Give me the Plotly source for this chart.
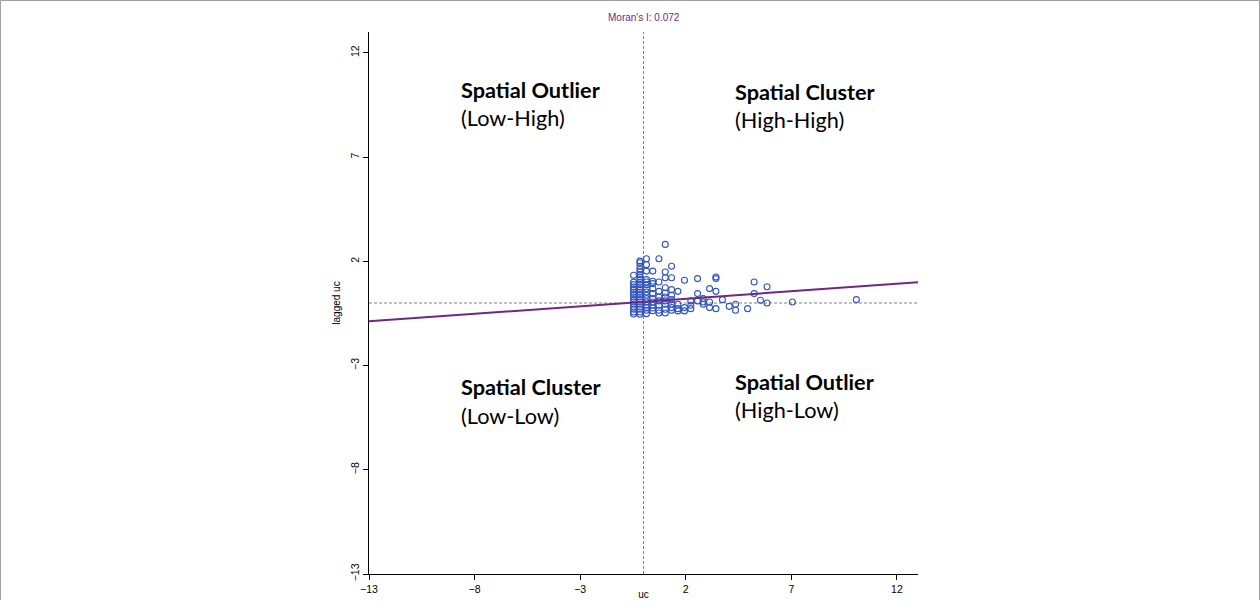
import plotly.graph_objects as go

# ---- data ----
col_x = [-0.47, -0.17, 0.14, 0.44, 0.73, 1.03, 1.33, 1.63, 1.94, 2.24, 2.56, 2.83, 3.13, 3.43,
         3.74, 4.06, 4.36, 4.93, 5.24, 5.54, 5.85, 7.05, 10.08]
col_y = [
    [1.33, 1.0, 0.88, 0.77, 0.64, 0.51, 0.40, 0.29, 0.16, 0.05, -0.06, -0.19, -0.30, -0.43, -0.53],
    [2.01, 1.93, 1.76, 1.61, 1.49, 1.36, 1.25, 1.12, 0.99, 0.88, 0.77, 0.64, 0.51, 0.40, 0.29,
     0.16, 0.05, -0.06, -0.19, -0.30, -0.43, -0.54],
    [2.12, 1.84, 1.53, 1.12, 1.01, 0.88, 0.69, 0.53, 0.37, 0.21, 0.05, -0.11, -0.22, -0.35, -0.51],
    [1.53, 1.04, 0.93, 0.69, 0.45, 0.21, 0.05, -0.11, -0.24, -0.37],
    [2.12, 1.01, 0.56, 0.29, 0.10, -0.11, -0.35, -0.48],
    [2.81, 1.49, 1.21, 0.73, 0.48, 0.29, 0.10, -0.06, -0.30, -0.48],
    [1.76, 1.21, 0.64, 0.37, 0.16, -0.06, -0.22, -0.35],
    [0.56, -0.06, -0.27, -0.38],
    [1.09, -0.22, -0.38],
    [0.10, -0.11, -0.27],
    [1.17, 0.45, 0.10],
    [0.21, 0.05, -0.06],
    [0.69, 0.05, -0.22],
    [1.25, 1.17, 0.56, -0.27],
    [0.16],
    [-0.16],
    [-0.06, -0.35],
    [-0.27],
    [1.01, 0.45],
    [0.13],
    [0.78, 0.0],
    [0.05],
    [0.16],
]
uc = [cx for cx, ys in zip(col_x, col_y) for _ in ys]
lagged_uc = [y for ys in col_y for y in ys]

moran_i = 0.072
intercept = 0.06
axis_range = [-13, 13]
tick_vals = [-13, -8, -3, 2, 7, 12]

quad_labels = [
    ("Spatial Outlier", "(Low-High)", -8.72, 10.2, 8.86),
    ("Spatial Cluster", "(High-High)", 4.22, 10.1, 8.76),
    ("Spatial Cluster", "(Low-Low)", -8.72, -4.02, -5.41),
    ("Spatial Outlier", "(High-Low)", 4.22, -3.78, -5.12),
]

PURPLE = "rgb(110,40,130)"
BLUE = "rgb(50,85,190)"
FONT = "Liberation Sans"

fig = go.Figure()
fig.add_trace(go.Scatter(
    x=uc, y=lagged_uc, mode="markers",
    marker=dict(symbol="circle-open", size=6, color=BLUE, line=dict(width=1.1, color=BLUE)),
    showlegend=False, hoverinfo="x+y"))

line_x = axis_range
line_y = [intercept + moran_i * v for v in line_x]
fig.add_trace(go.Scatter(x=line_x, y=line_y, mode="lines",
                         line=dict(color=PURPLE, width=2), showlegend=False))

# dashed reference lines at 0
fig.add_shape(type="line", xref="x", yref="y", x0=0, x1=0, y0=axis_range[0], y1=axis_range[1],
              line=dict(color="rgb(130,130,130)", width=1, dash="3px,2px"), layer="below")
fig.add_shape(type="line", xref="x", yref="y", x0=axis_range[0], x1=axis_range[1], y0=0, y1=0,
              line=dict(color="rgb(130,130,130)", width=1, dash="3px,2px"), layer="below")

# outer frame (top, left, right edges)
L, R, T, B = 369, 342, 32, 26
W, H = 1260, 600
pw, ph = W - L - R, H - T - B
fig.add_shape(type="rect", xref="paper", yref="paper",
              x0=(0.5 - L) / pw, x1=(W - 0.5 - L) / pw,
              y0=(H - B - (H + 20)) / ph, y1=(H - B - 0.5) / ph,
              line=dict(color="rgb(160,160,160)", width=1))

for bold, sub, xq, y1, y2 in quad_labels:
    fig.add_annotation(x=xq, y=y1, xref="x", yref="y", text="<b>" + bold + "</b>", showarrow=False,
                       xanchor="left", yanchor="middle",
                       font=dict(family="Lato", size=21.7, color="black"))
    fig.add_annotation(x=xq, y=y2, xref="x", yref="y", text=sub, showarrow=False,
                       xanchor="left", yanchor="middle",
                       font=dict(family="Lato", size=21.7, color="black"))

fig.add_annotation(x=0, y=1, xref="x", yref="paper", yshift=15, text="Moran's I: 0.072",
                   showarrow=False, xanchor="center", yanchor="middle",
                   font=dict(family=FONT, size=10, color=PURPLE))

axis_common = dict(range=axis_range, tickvals=tick_vals, showgrid=False, zeroline=False,
                   showline=True, linecolor="black", linewidth=1, ticks="outside", ticklen=5,
                   tickcolor="black", tickfont=dict(family=FONT, size=10.5, color="black"))

fig.update_layout(
    width=W, height=H, autosize=False, margin=dict(l=L, r=R, t=T, b=B),
    paper_bgcolor="white", plot_bgcolor="white",
    xaxis=dict(**axis_common, automargin=False,
               title=dict(text="uc", standoff=2,
                          font=dict(family=FONT, size=10, color="black"))),
    yaxis=dict(**axis_common, tickangle=-90,
               title=dict(text="lagged uc", standoff=6,
                          font=dict(family=FONT, size=10, color="black"))),
)

fig.write_html("out.html",
               config={"responsive": False, "displayModeBar": False},
               post_script=("document.body.style.margin='0';"
                            "document.body.style.padding='0';"
                            "document.documentElement.style.overflow='hidden';"
                            "document.body.style.overflow='hidden';"))
